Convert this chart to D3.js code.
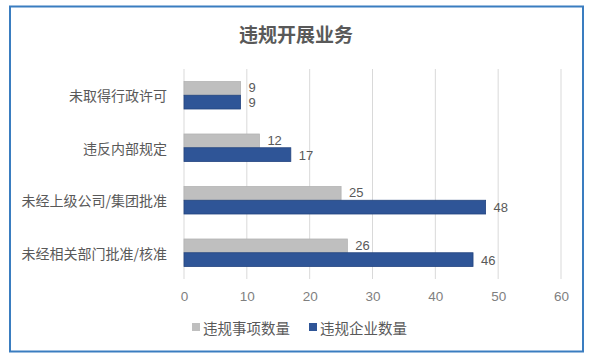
<!DOCTYPE html>
<html><head><meta charset="utf-8">
<script src="https://cdn.jsdelivr.net/npm/d3@7"></script>
<style>html,body{margin:0;padding:0;background:#fff;}svg{display:block;}</style>
</head><body>
<script>
const title = "违规开展业务";
const categories = ["未取得行政许可", "违反内部规定", "未经上级公司/集团批准", "未经相关部门批准/核准"];
const seriesNames = ["违规事项数量", "违规企业数量"];
const itemCounts = [9, 12, 25, 26];
const companyCounts = [9, 17, 48, 46];
const xTicks = [0, 10, 20, 30, 40, 50, 60];
const colors = ["#BFBFBF", "#2F5597"];

const W = 595, H = 361;
const font = "'Noto Sans CJK SC', 'Noto Sans', sans-serif";
const numFont = "'Liberation Sans', Arial, sans-serif";
const svg = d3.select("body").append("svg").attr("width", W).attr("height", H)
  .style("font-family", font);

svg.append("rect").attr("x", 0).attr("y", 0).attr("width", W).attr("height", H).attr("fill", "#fff");
svg.append("rect").attr("x", 10).attr("y", 6.5).attr("width", 573).attr("height", 345)
  .attr("fill", "#fff").attr("stroke", "#3A7DC0").attr("stroke-width", 2);

svg.append("text").attr("x", 296).attr("y", 33).attr("text-anchor", "middle")
  .attr("dominant-baseline", "central").attr("font-size", 19).attr("font-weight", "bold")
  .attr("fill", "#595959").text(title);

const x = d3.scaleLinear().domain([0, 60]).range([184, 561]);
const y = d3.scaleBand().domain(categories).range([69, 279]).paddingInner(0.476).paddingOuter(0.238);
const sub = d3.scaleBand().domain([0, 1]).range([0, y.bandwidth()]);

// gridlines
svg.append("g").selectAll("line").data(xTicks).join("line")
  .attr("x1", d => x(d)).attr("x2", d => x(d)).attr("y1", 69).attr("y2", 279)
  .attr("stroke", "#D9D9D9").attr("stroke-width", 1);

// x axis labels
const xAxis = d3.axisBottom(x).tickValues(xTicks).tickSize(0).tickPadding(0);
const ga = svg.append("g").attr("transform", "translate(0,296)").call(xAxis);
ga.select(".domain").remove();
ga.selectAll("text").attr("font-size", 13.5).attr("fill", "#7F7F7F").attr("dy", null)
  .attr("dominant-baseline", "central").style("font-family", numFont);

// category labels
const yAxis = d3.axisLeft(y).tickSize(0).tickPadding(0);
const gy = svg.append("g").attr("transform", "translate(167,0)").call(yAxis);
gy.select(".domain").remove();
gy.selectAll("text").attr("font-size", 14).attr("fill", "#595959").attr("dy", null)
  .attr("dominant-baseline", "central").style("font-family", font);

const series = [itemCounts, companyCounts];
series.forEach((vals, si) => {
  const g = svg.append("g");
  g.selectAll("rect").data(vals).join("rect")
    .attr("x", x(0))
    .attr("y", (d, i) => y(categories[i]) + sub(si))
    .attr("width", d => x(d) - x(0))
    .attr("height", sub.bandwidth())
    .attr("fill", colors[si])
    .attr("stroke", si === 1 ? "#23447F" : "#B3B3B3").attr("stroke-width", 0.8);
  g.selectAll("text").data(vals).join("text")
    .attr("x", d => x(d) + 8)
    .attr("y", (d, i) => y(categories[i]) + sub(si) + sub.bandwidth() / 2 + (si === 0 ? -0.5 : 0.5))
    .attr("dominant-baseline", "central").attr("font-size", 13).attr("fill", "#595959")
    .style("font-family", numFont)
    .text(d => d);
});

// legend
const legendX = [192, 309];
const lg = svg.append("g").selectAll("g").data(seriesNames).join("g")
  .attr("transform", (d, i) => `translate(${legendX[i]},327)`);
lg.append("rect").attr("x", 0).attr("y", -4).attr("width", 8).attr("height", 8)
  .attr("fill", (d, i) => colors[i]);
lg.append("text").attr("x", 11).attr("y", 0).attr("dominant-baseline", "central")
  .attr("font-size", 14.5).attr("fill", "#595959").text(d => d);
</script>
</body></html>
